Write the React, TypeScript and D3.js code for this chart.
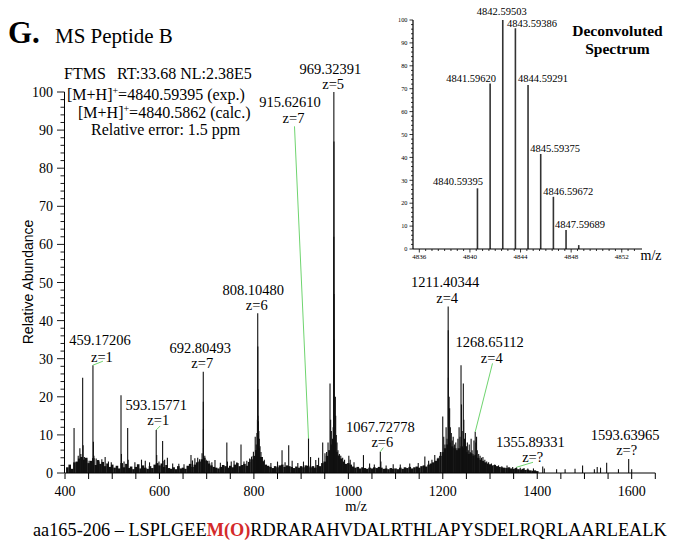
import React from 'react';
import * as d3 from 'd3';

// ---------------- DATA ----------------
// Main spectrum: labelled / visible peaks [m/z, relative abundance %]
const mainPeaks: [number, number][] = [
  [419.2, 11.8], [428, 4.5], [431.5, 6.5], [433.5, 5.0], [437.4, 25.0], [438.4, 7.3], [441, 4.2], [446, 3.5],
  [451, 3.2], [459.17, 28.3], [460.17, 8.2], [461.2, 4.5], [466, 3.8], [472, 3.0], [478, 3.6], [485, 4.2],
  [492, 3.0], [498, 2.8], [518.6, 20.4], [519.6, 5.0], [525, 3.0], [532.7, 11.8], [533.7, 3.5], [548, 2.8],
  [562, 3.5], [570, 3.2], [579, 2.8], [593.16, 11.3], [594.16, 4.7], [599, 3.0], [606.7, 8.4], [607.7, 3.2],
  [611, 3.5], [616.8, 4.0], [628, 2.5], [641, 2.4], [652, 2.3], [666.8, 4.7], [670, 3.3], [675, 3.9],
  [681, 4.0], [685, 3.6], [690.2, 5.2], [692.8, 26.6], [692.95, 18.7], [693.09, 11.5], [693.23, 6.5], [696, 4.5],
  [699, 3.5], [705, 3.2], [711, 2.8], [717.6, 3.4], [729, 2.7], [742.7, 8.0], [744, 3.0], [752, 3.0],
  [758, 3.2], [764, 2.8], [772.7, 7.5], [779, 3.0], [785, 3.2], [791, 3.8], [795, 4.3], [799, 5.6],
  [802.8, 9.5], [805, 7.5], [806.5, 10.5], [807.5, 14.0], [808.1, 41.9], [808.27, 33.2], [808.44, 22.0], [808.6, 15.0],
  [808.77, 10.0], [809.5, 13.6], [810.5, 11.0], [811.5, 9.0], [813, 7.0], [815, 5.5], [818, 4.2], [822, 3.5],
  [836, 2.6], [850, 3.0], [859.6, 6.0], [866, 2.8], [873.7, 7.3], [881, 3.2], [893, 2.6], [905, 3.0],
  [915.63, 9.1], [920, 4.2], [931, 3.4], [937, 4.0], [945.7, 8.0], [950.5, 5.2], [954, 5.5], [957, 8.0],
  [961.2, 23.5], [962.5, 14.0], [964, 11.0], [966.5, 9.0], [967.9, 12.0], [968.92, 26.5], [969.12, 62.0], [969.32, 100],
  [969.52, 87.0], [969.72, 47.0], [969.92, 35.0], [970.12, 20.0], [970.32, 10.0], [971.5, 8.0], [972.5, 20.0], [973.2, 15.0],
  [974.5, 10.0], [976, 8.0], [978, 6.0], [981, 5.0], [984, 4.5], [988, 4.0], [992, 3.5], [1001, 4.5],
  [1004, 3.5], [1012, 2.8], [1032, 4.7], [1045, 2.5], [1055, 2.2], [1067.73, 5.6], [1068.9, 3.0], [1080, 2.0],
  [1095, 2.3], [1110, 2.2], [1130, 2.5], [1148, 2.6], [1162, 4.3], [1170, 3.2], [1177, 3.5], [1183, 4.7],
  [1190, 4.0], [1195, 5.5], [1199.9, 14.8], [1202, 9.5], [1204.5, 7.5], [1207, 12.0], [1209, 9.0], [1211.4, 43.7],
  [1211.65, 37.5], [1211.9, 25.0], [1212.15, 15.0], [1213.4, 20.0], [1214.5, 17.0], [1216, 12.0], [1218, 10.5], [1220, 8.5],
  [1222, 9.5], [1225, 7.5], [1227.5, 8.0], [1230, 6.5], [1232, 9.0], [1234.5, 12.0], [1236.5, 9.5], [1238.6, 28.3],
  [1239.6, 18.0], [1241, 11.0], [1243.5, 23.5], [1244.5, 14.0], [1246, 9.0], [1248, 10.5], [1250, 7.0], [1252, 8.0],
  [1254, 6.0], [1256, 7.5], [1258, 5.5], [1260, 9.0], [1262, 6.0], [1264, 5.0], [1266, 8.5], [1268.65, 10.8],
  [1270, 8.0], [1271.5, 9.5], [1273, 6.0], [1276, 5.0], [1279, 4.5], [1282, 4.0], [1285, 4.2], [1289, 3.5],
  [1293, 3.0], [1297, 2.8], [1303, 2.5], [1310, 2.2], [1318, 2.0], [1325, 1.8], [1336, 2.0], [1348, 1.6],
  [1355.9, 1.5], [1364, 1.4], [1372, 1.3], [1380, 1.2], [1392, 1.2], [1411.6, 1.7], [1415, 1.2], [1441, 1.0],
  [1459, 1.0], [1480, 1.1], [1496, 2.0], [1521, 1.0], [1527, 1.6], [1534, 1.4], [1547, 2.7], [1572, 1.0],
  [1593.64, 3.7], [1600, 1.0],
];

// Noise floor read along the baseline [m/z, level %]
const noiseFloor: [number, number][] = [
  [405, 1.5], [410, 2.2], [415, 1.1], [420, 2.8], [425, 3.0], [430, 3.8], [435, 4.2], [440, 3.5], [445, 4.0], [450, 2.6],
  [455, 3.2], [460, 3.9], [465, 2.1], [470, 3.4], [475, 2.4], [480, 2.9], [485, 1.8], [490, 2.5], [495, 1.6], [500, 2.2],
  [505, 1.4], [510, 1.9], [515, 1.2], [520, 2.6], [525, 1.5], [530, 2.4], [535, 1.3], [540, 1.7], [545, 1.0], [550, 1.6],
  [555, 2.3], [560, 1.2], [565, 2.0], [570, 1.4], [575, 1.1], [580, 1.8], [585, 1.3], [590, 2.2], [595, 2.6], [600, 2.0],
  [605, 2.5], [610, 1.6], [615, 2.1], [620, 1.3], [625, 1.1], [630, 1.5], [635, 1.0], [640, 1.8], [645, 1.2], [650, 1.4],
  [655, 1.1], [660, 1.9], [665, 2.4], [670, 1.6], [675, 2.2], [680, 2.8], [685, 3.0], [690, 3.6], [695, 4.0], [700, 3.2],
  [705, 2.5], [710, 2.0], [715, 1.6], [720, 1.4], [725, 1.2], [730, 1.6], [735, 2.1], [740, 1.8], [745, 1.4], [750, 1.9],
  [755, 1.5], [760, 2.2], [765, 2.6], [770, 1.8], [775, 2.1], [780, 2.4], [785, 1.9], [790, 2.9], [795, 3.6], [800, 4.5],
  [805, 6.0], [810, 6.5], [815, 4.2], [820, 3.1], [825, 2.2], [830, 1.9], [835, 1.6], [840, 1.3], [845, 1.8], [850, 1.5],
  [855, 2.0], [860, 2.2], [865, 1.6], [870, 2.0], [875, 1.8], [880, 1.6], [885, 1.3], [890, 1.7], [895, 1.4], [900, 1.8],
  [905, 1.5], [910, 2.0], [915, 1.9], [920, 1.5], [925, 1.8], [930, 1.4], [935, 2.1], [940, 1.8], [945, 2.6], [950, 3.0],
  [955, 4.5], [960, 6.0], [965, 7.5], [970, 8.0], [975, 5.5], [980, 4.6], [985, 3.8], [990, 3.0], [995, 2.4], [1000, 2.6],
  [1005, 2.2], [1010, 1.7], [1015, 1.4], [1020, 1.6], [1025, 1.2], [1030, 1.5], [1035, 1.3], [1040, 1.1], [1045, 1.4], [1050, 1.2],
  [1055, 1.5], [1060, 1.3], [1065, 1.6], [1070, 1.4], [1075, 1.1], [1080, 1.2], [1085, 1.0], [1090, 1.3], [1095, 1.1], [1100, 1.2],
  [1105, 1.0], [1110, 1.4], [1115, 1.1], [1120, 1.5], [1125, 1.3], [1130, 1.6], [1135, 1.2], [1140, 1.5], [1145, 1.7], [1150, 1.4],
  [1155, 1.8], [1160, 2.0], [1165, 1.7], [1170, 2.2], [1175, 2.5], [1180, 2.8], [1185, 3.2], [1190, 3.8], [1195, 4.5], [1200, 5.5],
  [1205, 6.5], [1210, 7.5], [1215, 8.0], [1220, 7.0], [1225, 6.5], [1230, 6.0], [1235, 6.5], [1240, 7.0], [1245, 6.5], [1250, 5.5],
  [1255, 5.0], [1260, 5.2], [1265, 4.6], [1270, 4.8], [1275, 4.0], [1280, 3.5], [1285, 3.2], [1290, 2.8], [1295, 2.5], [1300, 2.3],
  [1305, 2.0], [1310, 2.1], [1315, 1.8], [1320, 1.6], [1325, 1.5], [1330, 1.4], [1335, 1.3], [1340, 1.5], [1345, 1.2], [1350, 1.1],
  [1355, 1.3], [1360, 1.0], [1365, 0.9], [1370, 1.1], [1375, 0.8], [1380, 0.9], [1385, 0.7], [1390, 0.6], [1395, 0.7], [1400, 0.5],
];

const mainXLabels = [400, 600, 800, 1000, 1200, 1400, 1600];
const mainYLabels = [0, 10, 20, 30, 40, 50, 60, 70, 80, 90, 100];

// Annotated peaks
const peakMz = [459.17206, 593.15771, 692.80493, 808.1048, 915.6261, 969.32391, 1067.72778, 1211.40344, 1268.65112, 1355.89331, 1593.63965];
const peakHeight = [28.3, 11.3, 26.6, 41.9, 9.1, 100, 5.6, 43.7, 10.8, 1.5, 3.7];
const peakLabel = ['459.17206', '593.15771', '692.80493', '808.10480', '915.62610', '969.32391', '1067.72778', '1211.40344', '1268.65112', '1355.89331', '1593.63965'];
const peakCharge = ['z=1', 'z=1', 'z=7', 'z=6', 'z=7', 'z=5', 'z=6', 'z=4', 'z=4', 'z=?', 'z=?'];

// Deconvoluted spectrum (inset)
const deconvMz = [4840.59395, 4841.5962, 4842.59503, 4843.59386, 4844.59291, 4845.59375, 4846.59672, 4847.59689, 4848.6];
const deconvHeight = [26.5, 72.3, 100, 96.4, 71.6, 41.5, 22.8, 8.3, 1.7];
const deconvLabel = ['4840.59395', '4841.59620', '4842.59503', '4843.59386', '4844.59291', '4845.59375', '4846.59672', '4847.59689', ''];
const insetXLabels = [4836, 4840, 4844, 4848, 4852];
const insetYLabels = [0, 10, 20, 30, 40, 50, 60, 70, 80, 90, 100];

// ---------------- LAYOUT (offsets of annotations, px) ----------------
// [dx label, dy label, dx charge, dy charge, lead dx, lead dy] relative to the peak top
const labelLayout: number[][] = [
  [7, 20, 9, 3, 10, 4],
  [0, 20, 2, 5, 4, 4],
  [-3, 18.5, -1, 3.5, 0, 0],
  [-4.5, 18.5, -1, 3.5, 0, 0],
  [-18.5, 331, -15, 315, -14, 312],
  [-3.5, 18, -0.7, 3, 0, 0],
  [0, 19.7, 2, 4.7, 3, 4],
  [-3, 20, -1, 3.5, 0, 0],
  [14.5, 85, 16.5, 69, 17.3, 68.5],
  [14, 20.3, 16.3, 5.3, 16.6, 5],
  [-3.6, 19, -2, 4, 0, 0],
];
// [dx, dy, anchor]
const insetLayout: [number, number, string][] = [
  [-19.4, 3.3, 'middle'], [-19, 1.7, 'middle'], [-1, 5, 'middle'], [-8.3, 1.3, 'start'],
  [15, 3.3, 'middle'], [14.4, 2.3, 'middle'], [14.8, 1.8, 'middle'], [14, 1.7, 'middle'], [0, 0, 'middle'],
];

const SERIF = 'Liberation Serif, DejaVu Serif, Times New Roman, serif';
const SANS = 'Liberation Sans, Arial, sans-serif';
const GREEN = '#6fd46f';

export default function App() {
  const x = d3.scaleLinear().domain([400, 1650]).range([65, 655.3]);
  const y = d3.scaleLinear().domain([0, 100]).range([473, 92]);
  const ix = d3.scaleLinear().domain([4835.5, 4853.6]).range([413, 642]);
  const iy = d3.scaleLinear().domain([0, 100]).range([249, 20]);

  const xTicks = d3.range(400, 1651, 50);
  const yTicks = d3.range(0, 101, 2);
  const ixTicks = d3.range(4836, 4853.5, 0.5);
  const iyTicks = d3.range(0, 101, 2);

  return (
    <svg width={681} height={540} style={{ position: 'absolute', left: 0, top: 0, fontFamily: SERIF }}>
      <rect x={0} y={0} width={681} height={540} fill="#fff" />

      {/* Title */}
      <text x={8} y={43} fontSize={31} fontWeight="bold">G.</text>
      <text x={55} y={43} fontSize={21}>MS Peptide B</text>

      {/* Info block */}
      <g fontSize={16}>
        <text x={64} y={79}>FTMS</text>
        <text x={117} y={79}>RT:33.68 NL:2.38E5</text>
        <text x={67} y={100}>[M+H]<tspan fontSize={10} dy={-6}>+</tspan><tspan dy={6}>=4840.59395 (exp.)</tspan></text>
        <text x={78} y={118}>[M+H]<tspan fontSize={10} dy={-6}>+</tspan><tspan dy={6}>=4840.5862 (calc.)</tspan></text>
        <text x={91} y={135}>Relative error: 1.5 ppm</text>
      </g>

      {/* Noise floor */}
      <g stroke="#111" strokeWidth={2.6}>
        {noiseFloor.map(([m, v], i) => (
          <line key={'n' + i} x1={x(m)} x2={x(m)} y1={y(0)} y2={y(v)} />
        ))}
      </g>
      {/* Peaks */}
      <g stroke="#111" strokeWidth={1.1}>
        {mainPeaks.map(([m, v], i) => (
          <line key={'p' + i} x1={x(m)} x2={x(m)} y1={y(0)} y2={y(v)} />
        ))}
      </g>

      {/* Main axes */}
      <line x1={x(400)} x2={x(1650)} y1={y(0)} y2={y(0)} stroke="#000" strokeWidth={1.2} />
      {xTicks.map((t) => (
        <line key={'xt' + t} x1={x(t)} x2={x(t)} y1={y(0)} y2={y(0) + 6} stroke="#000" strokeWidth={1} />
      ))}
      {mainXLabels.map((t) => (
        <text key={'xl' + t} x={x(t)} y={496} fontSize={14} textAnchor="middle">{t}</text>
      ))}
      <text x={356} y={511} fontSize={14.5} textAnchor="middle">m/z</text>

      <line x1={64.5} x2={64.5} y1={y(0)} y2={y(100)} stroke="#000" strokeWidth={1} />
      {yTicks.map((t) => (
        <line key={'yt' + t} x1={64.5} x2={t % 10 === 0 ? 57 : 60.5} y1={y(t)} y2={y(t)} stroke="#000" strokeWidth={0.9} />
      ))}
      {mainYLabels.map((t) => (
        <text key={'yl' + t} x={53} y={y(t) + 5} fontSize={14} textAnchor="end">{t}</text>
      ))}
      <text transform="translate(33,282) rotate(-90)" fontSize={14} style={{ fontFamily: SANS }} textAnchor="middle">Relative Abundance</text>

      {/* Peak annotations */}
      {peakMz.map((m, i) => {
        const px = x(m);
        const py = y(peakHeight[i]);
        const [dx, dy, zdx, zdy, lx, ly] = labelLayout[i];
        return (
          <g key={'a' + i}>
            {(lx !== 0 || ly !== 0) && (
              <line x1={px} y1={py} x2={px + lx} y2={py - ly} stroke={GREEN} strokeWidth={1} />
            )}
            <text x={px + dx} y={py - dy} fontSize={14.5} textAnchor="middle">{peakLabel[i]}</text>
            <text x={px + zdx} y={py - zdy} fontSize={14.5} textAnchor="middle">{peakCharge[i]}</text>
          </g>
        );
      })}

      {/* Inset: deconvoluted spectrum */}
      <g>
        {deconvMz.map((m, i) => (
          <line key={'d' + i} x1={ix(m)} x2={ix(m)} y1={iy(0)} y2={iy(deconvHeight[i])} stroke="#333" strokeWidth={1.6} />
        ))}
        <line x1={ix(4835.5)} x2={ix(4853.6)} y1={iy(0)} y2={iy(0)} stroke="#000" strokeWidth={1.2} />
        {ixTicks.map((t) => (
          <line key={'ixt' + t} x1={ix(t)} x2={ix(t)} y1={iy(0)} y2={iy(0) + (t % 4 === 0 ? 3.5 : 2)} stroke="#000" strokeWidth={0.8} />
        ))}
        {insetXLabels.map((t) => (
          <text key={'ixl' + t} x={ix(t)} y={259} fontSize={7} textAnchor="middle">{t}</text>
        ))}
        <text x={651} y={260} fontSize={14} textAnchor="middle">m/z</text>
        <line x1={413} x2={413} y1={iy(0)} y2={iy(100)} stroke="#000" strokeWidth={1.2} />
        {iyTicks.map((t) => (
          <line key={'iyt' + t} x1={413} x2={t % 10 === 0 ? 409.5 : 411} y1={iy(t)} y2={iy(t)} stroke="#000" strokeWidth={0.8} />
        ))}
        {insetYLabels.map((t) => (
          <text key={'iyl' + t} x={407.5} y={iy(t) + 2.2} fontSize={6.3} textAnchor="end">{t}</text>
        ))}
        {deconvMz.map((m, i) => {
          if (!deconvLabel[i]) return null;
          const [dx, dy, anchor] = insetLayout[i];
          return (
            <text key={'dl' + i} x={ix(m) + dx} y={iy(deconvHeight[i]) - dy} fontSize={10.5} textAnchor={anchor}>{deconvLabel[i]}</text>
          );
        })}
        <text x={617.5} y={36} fontSize={15.5} fontWeight="bold" textAnchor="middle">Deconvoluted</text>
        <text x={617.5} y={54} fontSize={15.5} fontWeight="bold" textAnchor="middle">Spectrum</text>
      </g>

      {/* Sequence */}
      <text x={33} y={536} fontSize={18.3}>
        aa165-206 – LSPLGEE<tspan fill="#d42a2a" fontWeight="bold">M(O)</tspan>RDRARAHVDALRTHLAPYSDELRQRLAARLEALK
      </text>
    </svg>
  );
}
